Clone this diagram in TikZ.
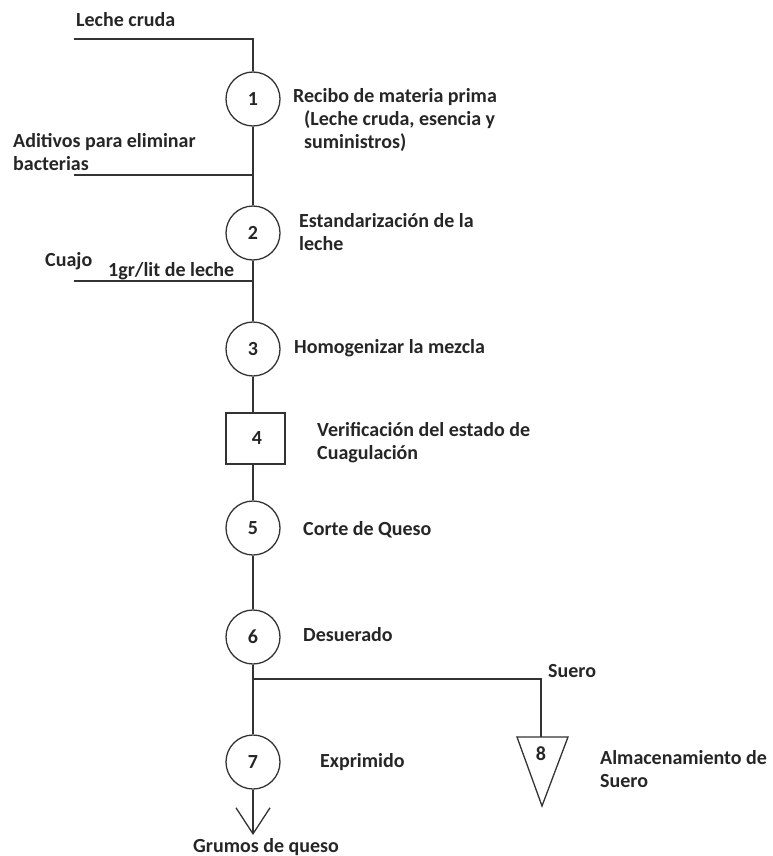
\documentclass[tikz,border=0pt]{standalone}
\usepackage{fontspec}
\setmainfont{Carlito}
\usetikzlibrary{arrows.meta}
\definecolor{ink}{HTML}{262626}
\definecolor{wire}{HTML}{333333}
\begin{document}
\begin{tikzpicture}[x=1pt,y=-1pt,
  txt/.style={font=\fontsize{20}{23}\selectfont\bfseries,text=ink,inner sep=0pt,anchor=west,align=left},
  one/.style={txt,text height=13pt,text depth=4pt},
  op/.style={circle,draw=wire,line width=1.3pt,minimum size=54pt,inner sep=0pt,
    font=\fontsize{20}{23}\selectfont\bfseries,text=ink},
  chk/.style={rectangle,draw=wire,line width=1.3pt,minimum width=59pt,minimum height=51pt,inner sep=0pt,
    font=\fontsize{20}{23}\selectfont\bfseries,text=ink},
  flow/.style={draw=wire,line width=1.3pt}]
\useasboundingbox[fill=white] (0,0) rectangle (772,856);

% process symbols
\node[op] (c1) at (253,99) {1};
\node[op] (c2) at (253,233) {2};
\node[op] (c3) at (253,349) {3};
\node[chk] (b4) at (255.5,438.5) {\hspace*{3pt}\raisebox{-3pt}{4}};
\node[op] (c5) at (253,528) {5};
\node[op] (c6) at (253,637) {6};
\node[op] (c7) at (253,762) {7};

% storage triangle
\coordinate (t8top) at (541,737);
\draw[flow] (517,737) -- (568,737) -- (542,806) -- cycle;
\node[font=\fontsize{20}{23}\selectfont\bfseries,text=ink] (n8) at (541,754) {8};

% inputs and junctions
\coordinate (inLeche) at (74,39);
\coordinate (inAdit) at (74,175);
\coordinate (jAdit) at (253,175);
\coordinate (inCuajo) at (74,281);
\coordinate (jCuajo) at (253,281);
\coordinate (jSuero) at (253,679);
\coordinate (tip) at (253,835);

% main flow
\draw[flow] (inLeche) -| (c1.north);
\draw[flow] (c1.south) -- (c2.north);
\draw[flow] (inAdit) -- (jAdit);
\draw[flow] (c2.south) -- (c3.north);
\draw[flow] (inCuajo) -- (jCuajo);
\draw[flow] (c3.south) -- (c3.south |- b4.north);
\draw[flow] (c5.north |- b4.south) -- (c5.north);
\draw[flow] (c5.south) -- (c6.north);
\draw[flow] (c6.south) -- (c7.north);
\draw[flow] (jSuero) -| (t8top);
\draw[flow,-{Straight Barb[length=26pt,width=34pt,line width=1.3pt]}] (c7.south) -- (tip);

% labels
\node[one] (tLeche) at (76,22) {Leche cruda};
\node[txt] (t1) at (293,119.5) {Recibo de materia prima\\\hspace*{11pt}(Leche cruda, esencia y\\\hspace*{11pt}suministros)};
\node[txt] (tAdit) at (13,152) {Aditivos para eliminar\\bacterias};
\node[txt] (t2) at (299,232.5) {Estandarización de la\\leche};
\node[one] (tCuajo) at (45,262) {Cuajo};
\node[one] (tDosis) at (108,272) {1gr/lit de leche};
\node[one] (t3) at (294,349) {Homogenizar la mezcla};
\node[txt] (t4) at (317,442.5) {Verificación del estado de\\Cuagulación};
\node[one] (t5) at (303,531) {Corte de Queso};
\node[one] (t6) at (303,637) {Desuerado};
\node[one] (tSuero) at (548,673) {Suero};
\node[txt] (t8) at (600,769) {Almacenamiento de\\Suero};
\node[one] (t7) at (320,763) {Exprimido};
\node[one] (tGrumos) at (193,848) {Grumos de queso};
\end{tikzpicture}
\end{document}
